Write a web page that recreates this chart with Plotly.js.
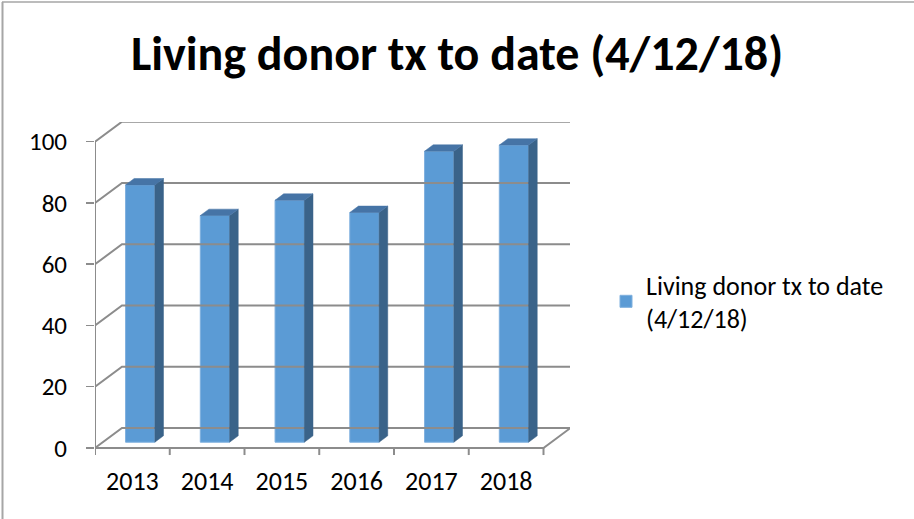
<!DOCTYPE html>
<html>
<head>
<meta charset="utf-8">
<script src="https://cdn.plot.ly/plotly-3.0.1.min.js"></script>
<style>
  html, body { margin: 0; padding: 0; background: #fff; }
  #chart { width: 914px; height: 519px; }
</style>
</head>
<body>
<div id="chart"></div>
<script>
// ---- data ----
const categories = ["2013", "2014", "2015", "2016", "2017", "2018"];
const values = [84, 74, 79, 75, 95, 97];
const yTicks = [0, 20, 40, 60, 80, 100];
const seriesName = "Living donor tx to date<br>(4/12/18)";
const chartTitle = "Living donor tx to date (4/12/18)";

// ---- pseudo-3D geometry (in axis units) ----
const DX = 0.361;   // wall depth along x (category units)
const DY = 6.53;    // wall depth along y (value units)
const D0 = 0.29;    // bar front depth fraction
const DD = 0.32;    // bar depth fraction
const HW = 0.196;   // bar half width
const TICK = 2.3;   // x tick mark length (value units)

const FONT = "Carlito, Lato, sans-serif";
const GRID = "#8c8c8c";
const FRONT = "#5B9BD5";
const SIDE = "#3A6389";
const TOP = "#4674A6";

const n = categories.length;
const xs = categories.map((c, i) => i);
const traces = [];

// walls / gridlines
const gx = [], gy = [];
yTicks.forEach(t => {
  gx.push(-0.5, -0.5 + DX, n - 0.5 + DX, null);
  gy.push(t, t + DY, t + DY, null);
});
// floor front edge and right edge
gx.push(-0.5, n - 0.5, n - 0.5 + DX, null);
gy.push(0, 0, DY, null);
// front vertical axis
gx.push(-0.5, -0.5, null);
gy.push(0, yTicks[yTicks.length - 1], null);
// x tick marks at category boundaries
for (let i = 0; i <= n; i++) {
  gx.push(i - 0.5, i - 0.5, null);
  gy.push(0, -TICK, null);
}
traces.push({
  type: "scatter", mode: "lines", x: gx, y: gy,
  line: { color: GRID, width: 2 }, hoverinfo: "skip", showlegend: false
});

// bar front faces
const bx = xs.map(i => i + D0 * DX);
const bbase = xs.map(() => D0 * DY);
traces.push({
  type: "bar", x: bx, y: values, base: bbase, width: 2 * HW,
  name: seriesName,
  marker: { color: FRONT, line: { color: "#7FB0DE", width: 1 } },
  showlegend: true
});

// side and top faces
values.forEach((v, i) => {
  const xl = bx[i] - HW, xr = bx[i] + HW;
  const b = bbase[i], tp = b + v;
  const dx = DD * DX, dy = DD * DY;
  traces.push({
    type: "scatter", mode: "lines", fill: "toself", fillcolor: SIDE,
    x: [xr, xr + dx, xr + dx, xr, xr],
    y: [b, b + dy, tp + dy, tp, b],
    line: { color: SIDE, width: 0.5 }, hoverinfo: "skip", showlegend: false
  });
  traces.push({
    type: "scatter", mode: "lines", fill: "toself", fillcolor: TOP,
    x: [xl, xr, xr + dx, xl + dx, xl],
    y: [tp, tp, tp + dy, tp + dy, tp],
    line: { color: TOP, width: 0.5 }, hoverinfo: "skip", showlegend: false
  });
});

const L = 95, R = 344, T = 122, B = 63;
const W = 914 - L - R, H = 519 - T - B;
const px2paperX = p => (p - L) / W;
const px2paperY = p => (519 - B - p) / H;

const layout = {
  width: 914, height: 519,
  margin: { l: L, r: R, t: T, b: B, pad: 0 },
  paper_bgcolor: "#ffffff", plot_bgcolor: "rgba(0,0,0,0)",
  font: { family: FONT, color: "#000000", size: 25 },
  title: {
    text: "<b>" + chartTitle + "</b>",
    font: { family: FONT, size: 48, color: "#000000" },
    x: 0.5, xref: "container", xanchor: "center",
    y: 1 - 53 / 519, yref: "container", yanchor: "middle"
  },
  xaxis: {
    range: [-0.5, -0.5 + W / 74.75],
    tickvals: xs, ticktext: categories,
    ticks: "", showgrid: false, zeroline: false, showline: false,
    tickfont: { family: FONT, size: 26, color: "#000" },
    ticklabelstandoff: 7, fixedrange: true
  },
  yaxis: {
    range: [-(456 - 448) / 3.063, (448 - 122) / 3.063],
    tickvals: yTicks, ticktext: yTicks.map(String),
    ticks: "outside", ticklen: 8, tickcolor: GRID, tickwidth: 1.5,
    showgrid: false, zeroline: false, showline: false,
    tickfont: { family: FONT, size: 25, color: "#000" },
    ticklabelstandoff: 14, fixedrange: true
  },
  showlegend: true,
  legend: {
    x: px2paperX(606), xanchor: "left",
    y: px2paperY(261), yanchor: "top",
    font: { family: FONT, size: 26, color: "#000" },
    bgcolor: "rgba(0,0,0,0)", borderwidth: 0
  },
  shapes: [
    { type: "line", xref: "paper", yref: "paper",
      x0: px2paperX(2.5), x1: px2paperX(2.5), y0: px2paperY(2), y1: px2paperY(519),
      line: { color: "#a6a6a6", width: 2 } },
    { type: "line", xref: "paper", yref: "paper",
      x0: px2paperX(2), x1: px2paperX(914), y0: px2paperY(2), y1: px2paperY(2),
      line: { color: "#a6a6a6", width: 1.5 } }
  ],
  hovermode: false
};

Plotly.newPlot("chart", traces, layout, { displayModeBar: false, staticPlot: true });
</script>
</body>
</html>
